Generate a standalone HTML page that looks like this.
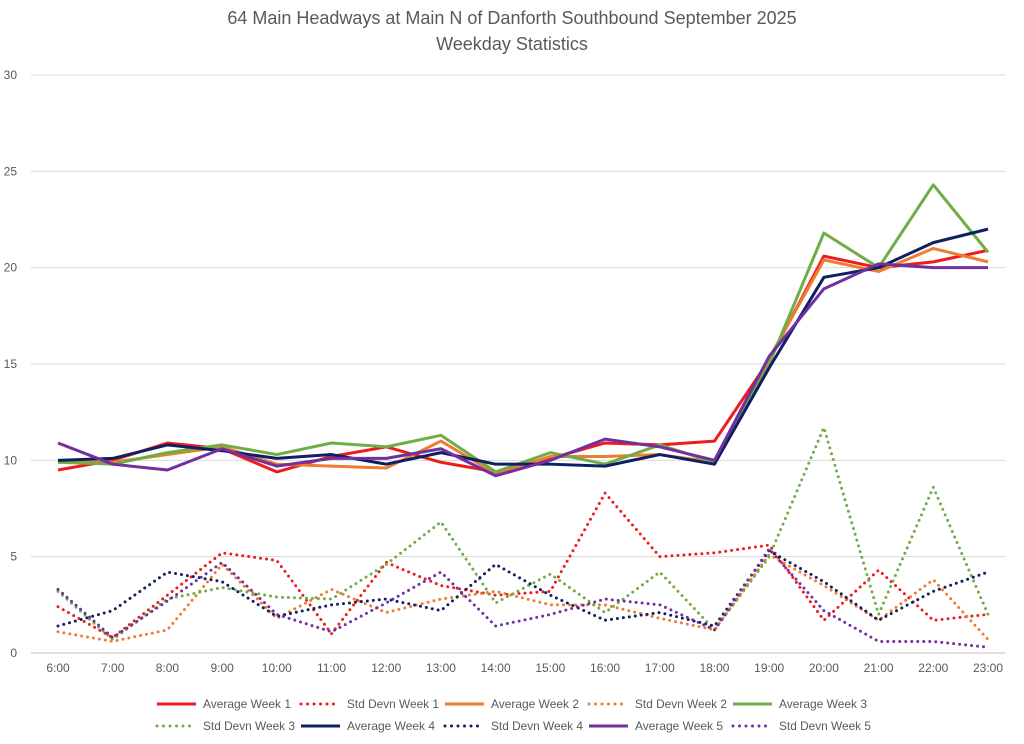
<!DOCTYPE html>
<html><head><meta charset="utf-8"><style>
body{margin:0;background:#fff;font-family:"Liberation Sans",sans-serif}
svg text{font-family:"Liberation Sans",sans-serif;fill:#595959}
</style></head><body>
<svg id="c" width="1024" height="739">
<text x="512" y="24" font-size="18" text-anchor="middle">64 Main Headways at Main N of Danforth Southbound September 2025</text>
<text x="512" y="50" font-size="18" text-anchor="middle">Weekday Statistics</text>
<g id="grid"></g><g id="series"></g><g id="legend"></g>
</svg>
<script>
const categories=["6:00","7:00","8:00","9:00","10:00","11:00","12:00","13:00","14:00","15:00","16:00","17:00","18:00","19:00","20:00","21:00","22:00","23:00"];
const yTicks=[0,5,10,15,20,25,30];
const avgW1=[9.5,10.0,10.9,10.6,9.4,10.2,10.7,9.9,9.4,10.1,10.9,10.8,11.0,15.2,20.6,20.0,20.3,20.9];
const avgW2=[9.9,9.9,10.3,10.7,9.8,9.7,9.6,11.0,9.3,10.2,10.2,10.3,9.9,15.3,20.4,19.8,21.0,20.3];
const avgW3=[9.9,9.8,10.4,10.8,10.3,10.9,10.7,11.3,9.4,10.4,9.8,10.8,9.9,15.0,21.8,20.0,24.3,20.8];
const avgW4=[10.0,10.1,10.8,10.5,10.1,10.3,9.8,10.4,9.8,9.8,9.7,10.3,9.8,14.8,19.5,20.0,21.3,22.0];
const avgW5=[10.9,9.8,9.5,10.6,9.7,10.1,10.1,10.6,9.2,10.0,11.1,10.7,10.0,15.4,18.9,20.2,20.0,20.0];
const sdW1=[2.4,0.8,3.0,5.2,4.8,1.0,4.7,3.5,3.0,3.2,8.3,5.0,5.2,5.6,1.7,4.3,1.7,2.0];
const sdW2=[1.1,0.6,1.2,4.6,1.8,3.3,2.1,2.8,3.2,2.5,2.5,1.8,1.2,5.1,3.5,1.7,3.8,0.7];
const sdW3=[3.2,0.7,2.8,3.4,2.9,2.8,4.6,6.8,2.6,4.1,2.1,4.2,1.2,5.0,11.7,2.0,8.6,2.0];
const sdW4=[1.4,2.2,4.2,3.7,1.9,2.5,2.8,2.2,4.6,3.0,1.7,2.1,1.4,5.3,3.7,1.7,3.2,4.2];
const sdW5=[3.3,0.8,2.7,4.7,2.0,1.1,2.6,4.2,1.4,2.0,2.8,2.5,1.2,5.4,2.2,0.6,0.6,0.3];
const NS="http://www.w3.org/2000/svg";
const x=i=>58+i*(930/17), y=v=>653-v*(578/30);
function mk(t,a,p){const e=document.createElementNS(NS,t);for(const k in a)e.setAttribute(k,a[k]);p.appendChild(e);return e;}
const grid=document.getElementById('grid');
yTicks.forEach(t=>{
  const l=mk('line',{x1:31,x2:1005,y1:y(t),y2:y(t),stroke:t?'#d9d9d9':'#bfbfbf','stroke-width':1},grid);
  
  
  const tx=mk('text',{x:17,y:y(t)+4,'font-size':12,'text-anchor':'end'},grid);tx.textContent=t;
  
  
});
categories.forEach((c,i)=>{
  const tx=mk('text',{x:x(i),y:672,'font-size':12,'text-anchor':'middle'},grid);tx.textContent=c;
  
  
});
const series=[
 ["Average Week 1",avgW1,"#ee1c1c",false],["Std Devn Week 1",sdW1,"#ee1c1c",true],
 ["Average Week 2",avgW2,"#ed7d31",false],["Std Devn Week 2",sdW2,"#ed7d31",true],
 ["Average Week 3",avgW3,"#70ad47",false],["Std Devn Week 3",sdW3,"#70ad47",true],
 ["Average Week 4",avgW4,"#0e2061",false],["Std Devn Week 4",sdW4,"#0e2061",true],
 ["Average Week 5",avgW5,"#7030a0",false],["Std Devn Week 5",sdW5,"#7030a0",true]];
const sg=document.getElementById('series'), lg=document.getElementById('legend');
const dots=series.filter(s=>s[3]), solids=series.filter(s=>!s[3]);
[...dots,...solids].forEach(s=>{
  const p=mk('polyline',{points:s[1].map((v,i)=>x(i)+','+y(v)).join(' '),fill:'none',stroke:s[2],'stroke-width':3,'stroke-linejoin':'round'},sg);
  if(s[3]){p.setAttribute('stroke-dasharray','0 6');p.setAttribute('stroke-linecap','round');}
  
  
});
series.forEach((s,k)=>{
  const r=Math.floor(k/5), c=k%5;
  const lx=156+c*144, ly=704+r*22;
  const g=mk('g',{},lg);
  
  
  const l=mk('line',{x1:lx+1,x2:lx+40,y1:ly,y2:ly,stroke:s[2],'stroke-width':3},g);
  if(s[3]){l.setAttribute('stroke-dasharray','0 6.5');l.setAttribute('stroke-linecap','round');}
  const t=mk('text',{x:lx+47,y:ly+4,'font-size':12,textLength:s[3]?92:88,lengthAdjust:'spacingAndGlyphs'},g);t.textContent=s[0];
});
</script>
</body></html>
